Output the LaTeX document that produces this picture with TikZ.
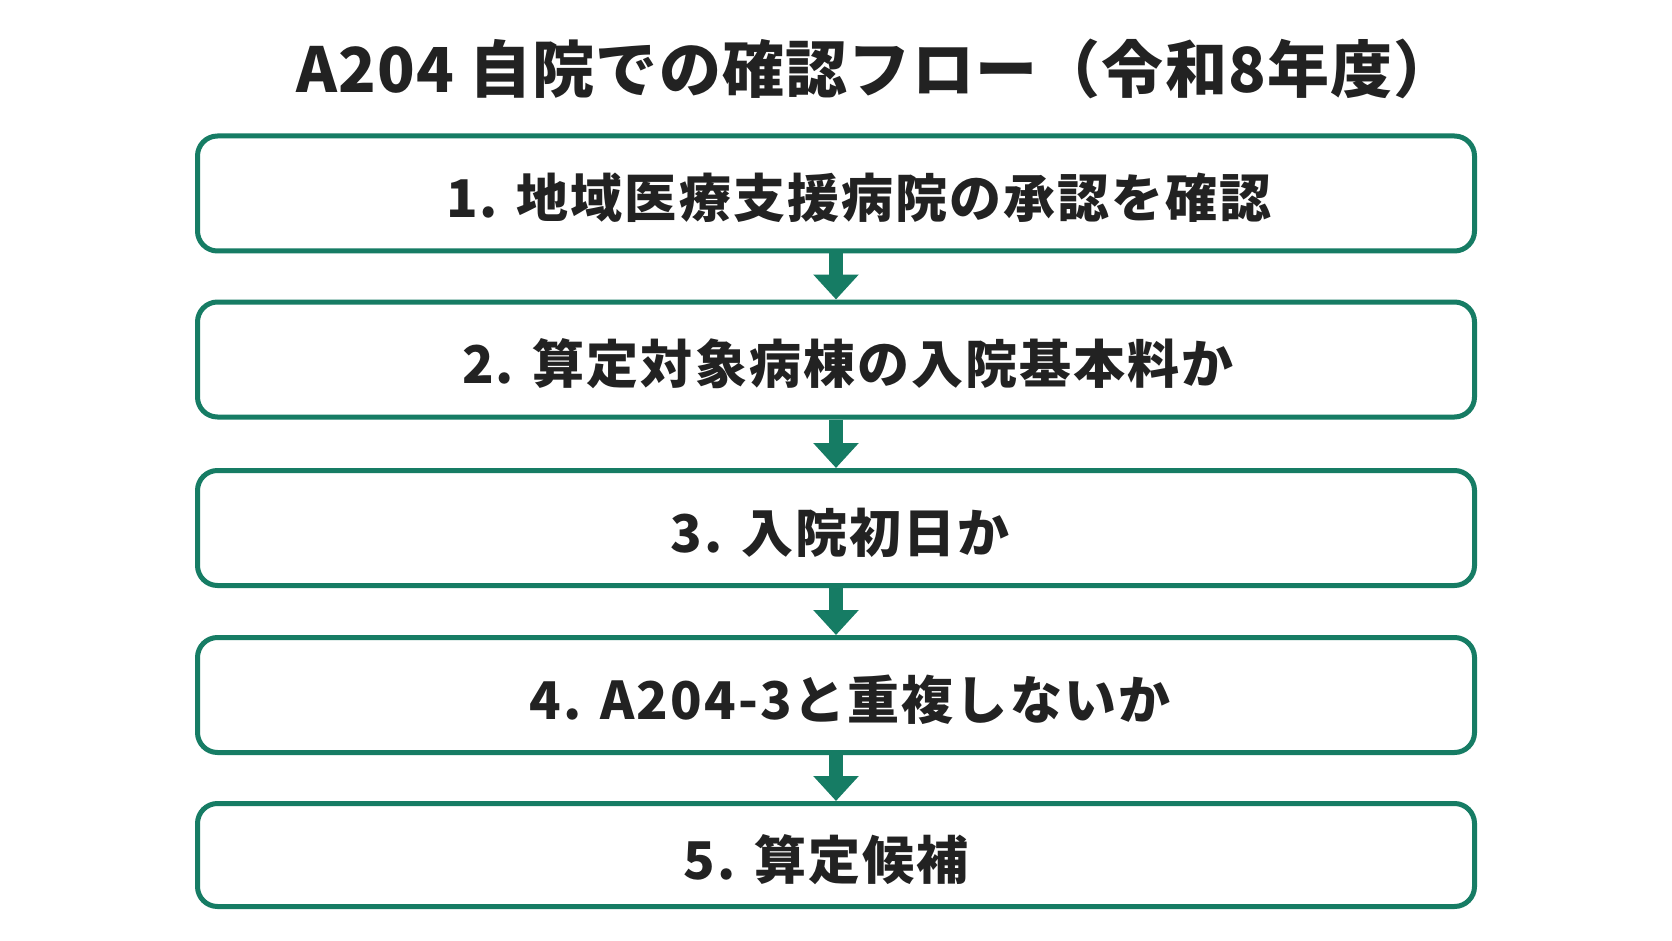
\documentclass[tikz,border=0pt]{standalone}
\usepackage{fontspec}
\newfontfamily\jp{Noto Sans CJK JP}[LetterSpace=4]
\newfontfamily\jptitle{Noto Sans CJK JP}[LetterSpace=2]
\usetikzlibrary{arrows.meta}
\definecolor{flowgreen}{RGB}{22,124,100}
\definecolor{ink}{RGB}{34,34,34}
\tikzset{
  stepbox/.style={draw=flowgreen, line width=5pt, rounded corners=20pt, fill=white,
    minimum width=1277pt, minimum height=115pt, inner sep=0pt, text=ink,
    text height=48pt, text depth=0pt,
    font=\jp\bfseries\fontsize{52}{52}\selectfont},
  flowarrow/.style={draw=flowgreen, line width=14pt, -{Triangle[width=44pt,length=25pt]}},
}
\begin{document}
\begin{tikzpicture}[x=1pt,y=-1pt]
\useasboundingbox[fill=white] (0,0) rectangle (1672,941);
\node[text=ink, font=\jptitle\bfseries\fontsize{62}{62}\selectfont] (title) at (876,69) {A204 自院での確認フロー（令和8年度）};
\node[stepbox] (b1) at (836,193.5) {\hspace*{46pt}1. 地域医療支援病院の承認を確認};
\node[stepbox] (b2) at (836,359.5) {\hspace*{24pt}2. 算定対象病棟の入院基本料か};
\node[stepbox] (b3) at (836,528) {\hspace*{8pt}3. 入院初日か};
\node[stepbox] (b4) at (836,695) {\hspace*{28pt}4. A204-3と重複しないか};
\node[stepbox, minimum height=103pt] (b5) at (836,855) {5. 算定候補\hspace*{20pt}};
\draw[flowarrow] (b1.south) -- (b2.north);
\draw[flowarrow] (b2.south) -- (b3.north);
\draw[flowarrow] (b3.south) -- (b4.north);
\draw[flowarrow] (b4.south) -- (b5.north);
\end{tikzpicture}
\end{document}
